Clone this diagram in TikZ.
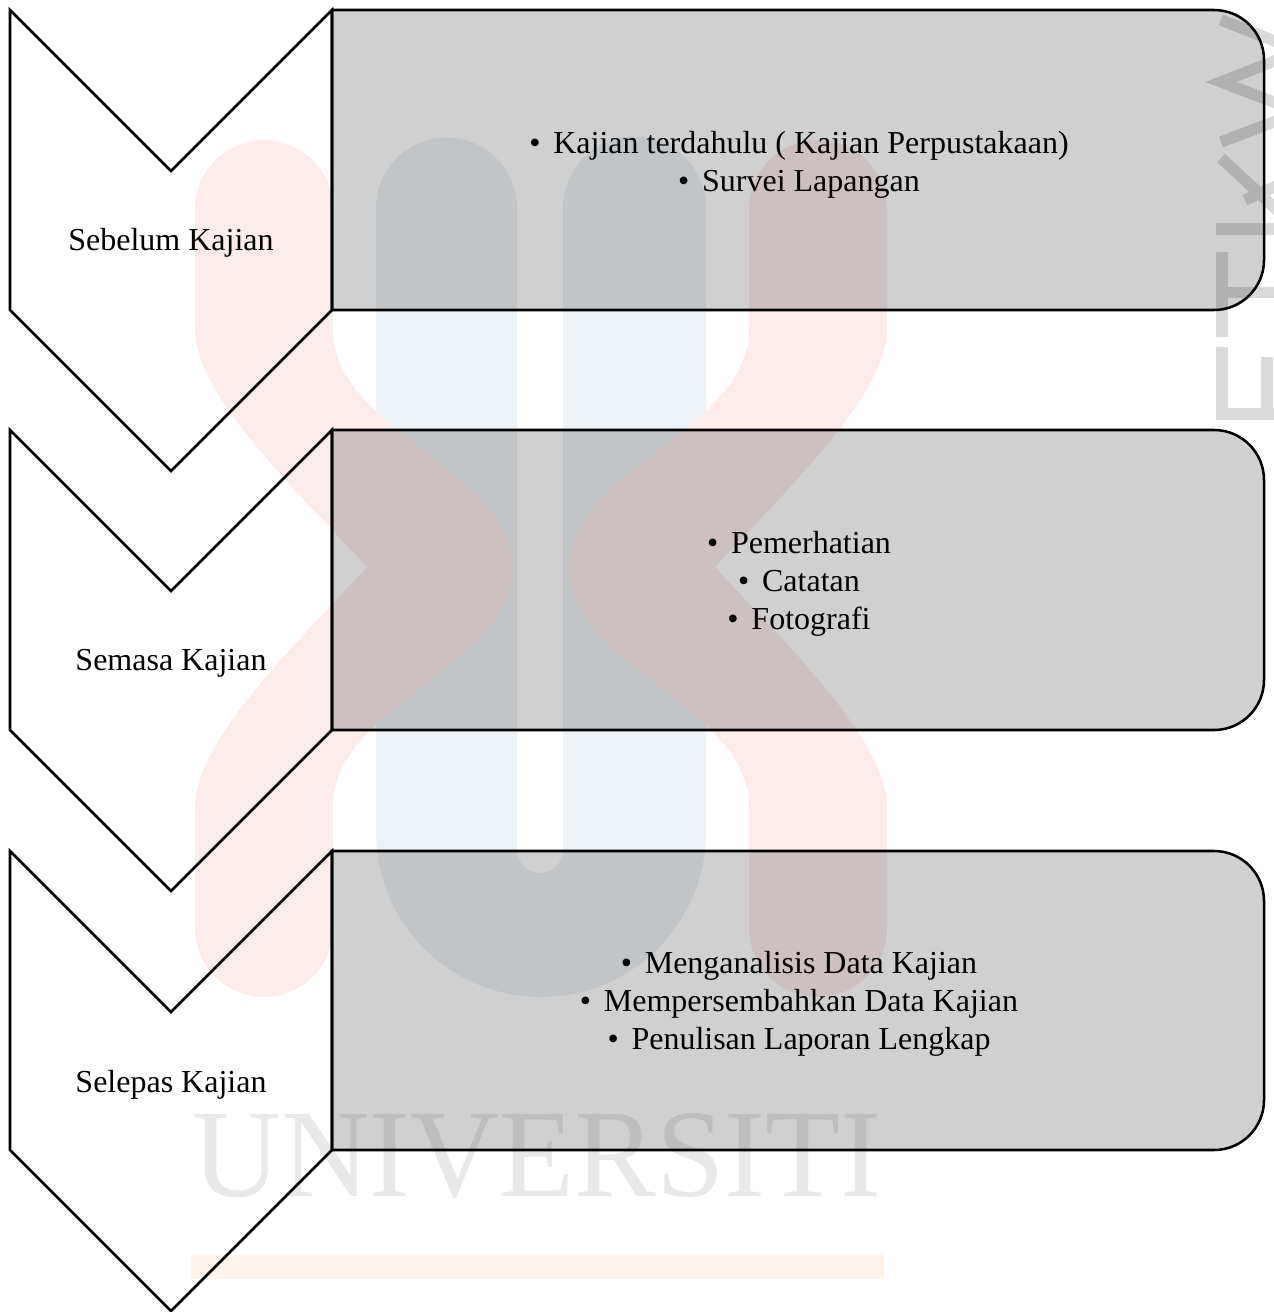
\documentclass[tikz,border=0pt]{standalone}
\usepackage{fontspec}
\setmainfont{Liberation Serif}
\newcommand{\blt}{•\hspace{0.4em}}
\definecolor{wmred}{RGB}{252,236,236}
\definecolor{wmblue}{RGB}{237,242,246}
\definecolor{wmgray}{RGB}{233,233,233}
\definecolor{wmedge}{RGB}{218,218,218}
\definecolor{wmyellow}{RGB}{255,244,234}
\tikzset{
  chev/.style={draw=black, line width=1.9pt, line join=miter},
  stagebox/.style={draw=black, line width=1.9pt, fill=black, fill opacity=0.185},
  lbl/.style={font=\fontsize{24}{28.5}\selectfont, inner sep=0pt, align=center, text=black},
  wmstroke/.style={draw=wmedge, line width=8.5pt, line cap=butt, line join=miter}
}
\begin{document}
\begin{tikzpicture}[x=0.75pt,y=-0.75pt]
\useasboundingbox (0,0) rectangle (1273,1312);
% ---------- faint watermark (background) ----------
\fill[wmblue] (376,208) arc[start angle=180,end angle=360,radius=70.5]
  -- (517,850) arc[start angle=180,end angle=0,radius=23]
  -- (563,208) arc[start angle=180,end angle=360,radius=71.5]
  -- (706,832) arc[start angle=0,end angle=180,radius=165] -- cycle;
\fill[wmred] (195,330) -- (195,209) arc[start angle=180,end angle=360,radius=69]
  -- (333,330) .. controls (333,430) and (513,470) .. (513,568)
  .. controls (513,666) and (333,706) .. (333,806)
  -- (333,928) arc[start angle=0,end angle=180,radius=69]
  -- (195,806) .. controls (195,740) and (300,640) .. (367,567)
  .. controls (300,494) and (195,396) .. (195,330) -- cycle;
\fill[wmred] (887,330) -- (887,209) arc[start angle=0,end angle=-180,radius=69]
  -- (749,330) .. controls (749,430) and (569,470) .. (569,568)
  .. controls (569,666) and (749,706) .. (749,806)
  -- (749,928) arc[start angle=180,end angle=0,radius=69]
  -- (887,806) .. controls (887,740) and (782,640) .. (715,567)
  .. controls (782,494) and (887,396) .. (887,330) -- cycle;
\node[font=\fontsize{94}{94}\selectfont, text=wmgray, inner sep=0pt, anchor=base, xscale=0.98] (wmtext) at (537,1196) {UNIVERSITI};
\fill[wmyellow] (191,1255) rectangle (884,1279);
% edge fragments of rotated watermark lettering
\draw[wmstroke] (1221,20) -- (1300,51) -- (1221,82) -- (1300,112) -- (1221,142);
\draw[wmstroke] (1216,229) -- (1300,229);
\draw[wmstroke] (1221,158) -- (1290,222);
\draw[wmstroke] (1245,200) -- (1290,180);
\draw[wmstroke] (1222,252) -- (1222,337);
\draw[wmstroke] (1222,292.5) -- (1300,292.5);
\draw[wmstroke] (1222,347) -- (1222,420);
\draw[wmstroke] (1216,414) -- (1300,414);
\draw[wmstroke] (1267,357) -- (1267,420);
% ---------- boxes ----------
\path[stagebox] (332,10) -- (1214,10) arc[start angle=270,end angle=360,radius=50]
  -- (1264,260) arc[start angle=0,end angle=90,radius=50] -- (332,310) -- cycle;
\path[stagebox] (332,430) -- (1214,430) arc[start angle=270,end angle=360,radius=50]
  -- (1264,680) arc[start angle=0,end angle=90,radius=50] -- (332,730) -- cycle;
\path[stagebox] (332,851) -- (1214,851) arc[start angle=270,end angle=360,radius=50]
  -- (1264,1100) arc[start angle=0,end angle=90,radius=50] -- (332,1150) -- cycle;
% ---------- chevrons ----------
\draw[chev] (10,10) -- (171,171) -- (332,10) -- (332,310) -- (171,471) -- (10,310) -- cycle;
\draw[chev] (10,430) -- (171,591) -- (332,430) -- (332,730) -- (171,891) -- (10,730) -- cycle;
\draw[chev] (10,851) -- (171,1012) -- (332,851) -- (332,1150) -- (171,1311) -- (10,1150) -- cycle;
% ---------- texts ----------
\node[lbl] (s1) at (171,243) {Sebelum Kajian};
\node[lbl] (s2) at (171,663) {Semasa Kajian};
\node[lbl] (s3) at (171,1085) {Selepas Kajian};
\node[lbl] (t1) at (799,165) {\blt Kajian terdahulu ( Kajian Perpustakaan)\\\blt Survei Lapangan};
\node[lbl] (t2) at (799,584) {\blt Pemerhatian\\\blt Catatan\\\blt Fotografi};
\node[lbl] (t3) at (799,1004) {\blt Menganalisis Data Kajian\\\blt Mempersembahkan Data Kajian\\\blt Penulisan Laporan Lengkap};
\end{tikzpicture}
\end{document}
